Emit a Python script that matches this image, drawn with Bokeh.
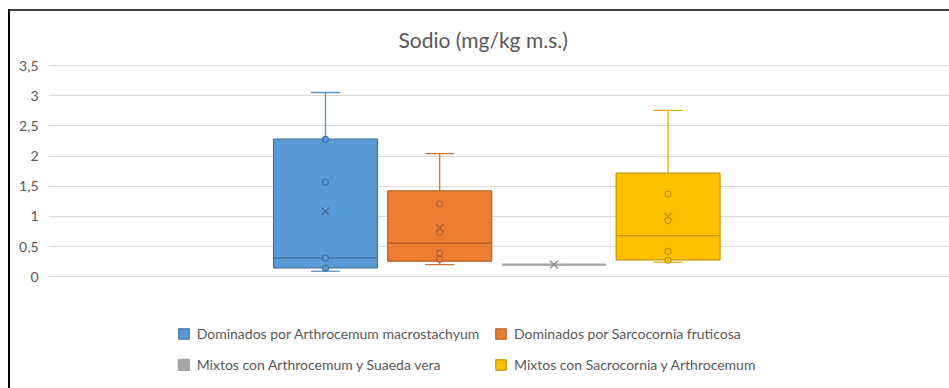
from bokeh.plotting import figure
from bokeh.models import Range1d, FixedTicker, Legend, LegendItem
from bokeh.embed import file_html
from bokeh.resources import INLINE

# ---------------- data ----------------
series = [
    "Dominados por Arthrocemum macrostachyum",
    "Dominados por Sarcocornia fruticosa",
    "Mixtos con Arthrocemum y Suaeda vera",
    "Mixtos con Sacrocornia y Arthrocemum",
]
whisker_low = [0.09, 0.20, 0.20, 0.24]
q1 = [0.146, 0.256, 0.20, 0.278]
median = [0.31, 0.554, 0.20, 0.68]
q3 = [2.284, 1.425, 0.20, 1.716]
whisker_high = [3.055, 2.04, 0.20, 2.76]
mean = [1.083, 0.807, 0.20, 1.0]
inner_points = [
    [2.28, 1.567, 0.31, 0.14],
    [1.21, 0.735, 0.39, 0.29],
    [],
    [1.37, 0.93, 0.42, 0.273],
]
ytick_values = [0, 0.5, 1, 1.5, 2, 2.5, 3, 3.5]
ytick_labels = ["0", "0,5", "1", "1,5", "2", "2,5", "3", "3,5"]
title_text = "Sodio (mg/kg m.s.)"

# ---------------- styles ----------------
fill_colors = ["#5B9BD5", "#ED7D31", "#A5A5A5", "#FFC000"]
dark_colors = ["#41719C", "#B5602A", "#8C8C8C", "#C49400"]
whisker_colors = ["#5A93CB", "#D9722E", "#A5A5A5", "#E3AC0A"]
FONT = "Lato"
TXT = "#595959"
BOX_W = 0.91
CAP_W = 0.255

W, H = 939, 377
p = figure(width=W, height=H, output_backend="svg", toolbar_location=None,
           x_range=Range1d(-2.4256, 5.4641), y_range=Range1d(-1.856, 3.52),
           min_border_left=38, min_border_right=0, min_border_top=52,
           min_border_bottom=0, outline_line_color=None,
           background_fill_color="white", border_fill_color="white")
p.styles = {"margin-top": "11px", "margin-left": "10px",
            "box-shadow": "-2px 0 0 0 #000000, 0 -2px 0 0 #404040, -2px -2px 0 0 #202020"}

p.title.text = title_text
p.title.align = "left"
p.title.offset = 350
p.title.standoff = 26
p.title.text_font = FONT
p.title.text_font_size = "21px"
p.title.text_font_style = "normal"
p.title.text_color = TXT

xs = list(range(len(series)))

p.xaxis.visible = False
p.xgrid.visible = False
ticker = FixedTicker(ticks=ytick_values)
p.yaxis.ticker = ticker
p.ygrid.ticker = ticker
p.ygrid.grid_line_color = "#D9D9D9"
p.ygrid.grid_line_width = 1.2
p.yaxis.major_label_overrides = {float(v): l for v, l in zip(ytick_values, ytick_labels)}
p.yaxis.axis_line_color = None
p.yaxis.major_tick_line_color = None
p.yaxis.minor_tick_line_color = None
p.yaxis.major_tick_out = 0
p.yaxis.major_label_standoff = 10
p.yaxis.major_label_text_font = FONT
p.yaxis.major_label_text_font_size = "14px"
p.yaxis.major_label_text_color = TXT

box_renderers = []
for i, x in enumerate(xs):
    c, d, wc = fill_colors[i], dark_colors[i], whisker_colors[i]
    p.segment(x0=[x, x], y0=[q3[i], q1[i]], x1=[x, x], y1=[whisker_high[i], whisker_low[i]],
              line_color=wc, line_width=1.3)
    p.segment(x0=[x - CAP_W / 2, x - CAP_W / 2], x1=[x + CAP_W / 2, x + CAP_W / 2],
              y0=[whisker_high[i], whisker_low[i]], y1=[whisker_high[i], whisker_low[i]],
              line_color=wc, line_width=1.3)
    if q3[i] > q1[i]:
        r = p.vbar(x=[x], width=BOX_W, top=[q3[i]], bottom=[q1[i]],
                   fill_color=c, line_color=d, line_width=1.2)
        p.segment(x0=[x - BOX_W / 2], x1=[x + BOX_W / 2], y0=[median[i]], y1=[median[i]],
                  line_color=d, line_width=1.3)
    else:
        r = p.vbar(x=[x], width=BOX_W, top=[q3[i]], bottom=[q1[i]],
                   fill_color=c, line_color=c, line_width=2.2)
    box_renderers.append(r)
    pts = inner_points[i]
    if pts:
        p.scatter(x=[x] * len(pts), y=pts, marker="circle", size=6,
                  fill_color=c, line_color=d, line_width=1.1)
    p.scatter(x=[x], y=[mean[i]], marker="x", size=11, line_color=d, line_width=1.4)


def make_legend(idx, loc):
    return Legend(items=[LegendItem(label=series[j], renderers=[box_renderers[j]]) for j in idx],
                  location=loc, orientation="vertical", border_line_color=None,
                  background_fill_alpha=0, padding=0, margin=0, spacing=11,
                  label_height=20, glyph_height=13, glyph_width=13, label_standoff=7,
                  label_text_font=FONT, label_text_font_size="14px", label_text_color=TXT)


p.add_layout(make_legend([0, 2], (128.7, 14)))
p.add_layout(make_legend([1, 3], (446, 14)))

open("out.html", "w").write(file_html(p, INLINE))
